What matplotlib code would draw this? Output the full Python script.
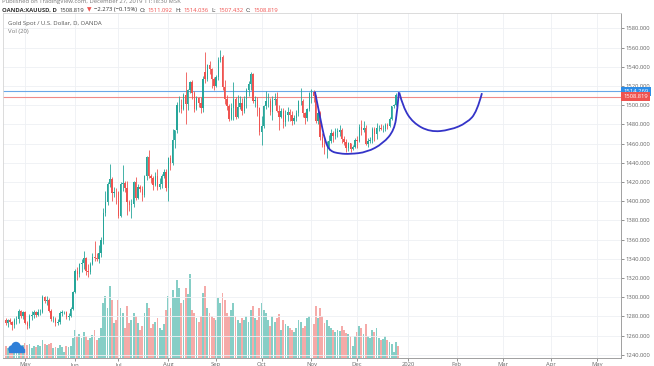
import matplotlib
matplotlib.use("Agg")
import matplotlib.pyplot as plt
from matplotlib.path import Path
from matplotlib.patches import PathPatch, Circle, Rectangle
from matplotlib.transforms import blended_transform_factory, IdentityTransform

plt.rcParams['font.family'] = ['Open Sans', 'DejaVu Sans']

# daily candles, Apr 17 2019 .. Dec 27 2019 (trading-day index)
opens = [1276, 1273, 1276, 1274, 1271, 1276, 1277, 1286, 1280,
         1284, 1273, 1270, 1280, 1281, 1285, 1281, 1284, 1285, 1300, 1296, 1297, 1286, 1277, 1277, 1273, 1274, 1283, 1284, 1284, 1279, 1280, 1288,
         1305, 1327, 1324, 1334, 1336, 1341, 1327, 1326, 1334, 1342, 1341, 1340, 1346, 1360, 1388, 1399, 1418, 1423, 1408, 1410,
         1409, 1385, 1418, 1419, 1414, 1399, 1396, 1397, 1420, 1403, 1415, 1413, 1406, 1426, 1446, 1426, 1424, 1417, 1426, 1415, 1418, 1426, 1430,
         1414, 1445, 1440, 1464, 1474, 1500, 1500, 1496, 1511, 1501, 1516, 1524, 1513, 1496, 1507, 1502, 1497, 1535, 1527, 1542, 1538, 1527,
         1520, 1529, 1547, 1550, 1519, 1506, 1499, 1486, 1497, 1506, 1488, 1498, 1502, 1494, 1506, 1516, 1522, 1532, 1504, 1505, 1497,
         1472, 1478, 1499, 1504, 1504, 1493, 1505, 1506, 1494, 1488, 1494, 1482, 1490, 1493, 1490, 1484, 1487, 1492, 1504, 1504, 1492, 1487, 1496,
         1513, 1514, 1510, 1484, 1492, 1467, 1459, 1456, 1456, 1463, 1471, 1468, 1472, 1472, 1474, 1465, 1462, 1455, 1461, 1454, 1456,
         1464, 1463, 1477, 1474, 1476, 1460, 1463, 1464, 1475, 1470, 1476, 1476, 1475, 1475, 1479, 1478, 1486, 1499, 1500, 1511.092]
highs = [1278, 1277, 1278, 1275, 1278, 1280, 1288, 1287, 1286,
         1286, 1275, 1282, 1286, 1287, 1286, 1288, 1288, 1302, 1301, 1301, 1299, 1288, 1280, 1279, 1277, 1286, 1287, 1286, 1286, 1283, 1290, 1306,
         1329, 1331, 1336, 1340, 1348, 1342, 1334, 1337, 1346, 1358, 1346, 1354, 1363, 1393, 1411, 1420, 1439, 1425, 1415, 1414,
         1411, 1420, 1438, 1421, 1421, 1401, 1402, 1421, 1425, 1418, 1417, 1416, 1427, 1447, 1453, 1428, 1426, 1430, 1433, 1424, 1428, 1434, 1433,
         1446, 1448, 1475, 1474, 1503, 1510, 1506, 1513, 1535, 1517, 1525, 1526, 1515, 1510, 1508, 1508, 1530, 1555, 1543, 1546, 1539, 1529,
         1531, 1550, 1557, 1552, 1526, 1511, 1501, 1502, 1524, 1508, 1511, 1510, 1507, 1510, 1518, 1525, 1535, 1534, 1510, 1508, 1498,
         1489, 1500, 1515, 1513, 1507, 1510, 1513, 1514, 1500, 1497, 1497, 1495, 1498, 1496, 1494, 1490, 1495, 1505, 1518, 1506, 1493, 1497, 1514,
         1517, 1516, 1511, 1494, 1494, 1471, 1465, 1463, 1469, 1475, 1473, 1476, 1476, 1479, 1476, 1468, 1465, 1462, 1461, 1459, 1466,
         1468, 1480, 1485, 1483, 1479, 1466, 1467, 1477, 1477, 1481, 1479, 1480, 1479, 1481, 1481, 1488, 1499, 1501, 1513, 1514.036]
lows = [1271, 1269, 1272, 1266, 1268, 1272, 1273, 1278, 1277,
        1272, 1267, 1268, 1276, 1278, 1279, 1280, 1281, 1283, 1294, 1292, 1285, 1275, 1274, 1270, 1271, 1272, 1280, 1282, 1277, 1276, 1279, 1287,
        1304, 1318, 1321, 1326, 1329, 1323, 1321, 1324, 1333, 1338, 1338, 1336, 1342, 1355, 1384, 1396, 1415, 1400, 1404, 1397,
        1382, 1383, 1411, 1410, 1386, 1390, 1382, 1394, 1401, 1402, 1409, 1400, 1404, 1422, 1424, 1419, 1412, 1416, 1412, 1413, 1414, 1424, 1411,
        1400, 1432, 1438, 1455, 1471, 1493, 1492, 1495, 1480, 1495, 1513, 1506, 1493, 1495, 1498, 1492, 1493, 1523, 1525, 1532, 1518, 1516,
        1519, 1526, 1545, 1516, 1501, 1495, 1484, 1485, 1485, 1486, 1487, 1496, 1490, 1492, 1497, 1510, 1516, 1502, 1498, 1489, 1469,
        1459, 1476, 1496, 1498, 1490, 1485, 1500, 1493, 1474, 1487, 1476, 1478, 1484, 1484, 1479, 1480, 1484, 1489, 1500, 1488, 1480, 1483, 1494,
        1502, 1503, 1481, 1480, 1464, 1456, 1449, 1445, 1453, 1461, 1462, 1465, 1467, 1468, 1461, 1458, 1451, 1452, 1451, 1453, 1455,
        1455, 1462, 1469, 1472, 1458, 1456, 1461, 1461, 1463, 1465, 1473, 1474, 1472, 1473, 1475, 1477, 1485, 1497, 1499, 1507.432]
closes = [1273, 1276, 1274, 1271, 1276, 1277, 1286, 1280, 1284,
          1273, 1270, 1280, 1281, 1285, 1281, 1284, 1285, 1300, 1296, 1297, 1286, 1277, 1277, 1273, 1274, 1283, 1284, 1284, 1279, 1280, 1288, 1305,
          1327, 1324, 1334, 1336, 1341, 1327, 1326, 1334, 1342, 1341, 1340, 1346, 1360, 1388, 1399, 1418, 1423, 1408, 1410, 1409,
          1385, 1418, 1419, 1414, 1399, 1396, 1397, 1420, 1403, 1415, 1413, 1406, 1426, 1446, 1426, 1424, 1417, 1426, 1415, 1418, 1426, 1430, 1414,
          1445, 1440, 1464, 1474, 1500, 1500, 1496, 1511, 1501, 1516, 1524, 1513, 1496, 1507, 1502, 1497, 1527, 1527, 1542, 1538, 1527, 1520,
          1529, 1547, 1550, 1519, 1506, 1499, 1486, 1497, 1506, 1488, 1498, 1502, 1494, 1506, 1516, 1522, 1532, 1504, 1505, 1497, 1472,
          1478, 1499, 1504, 1504, 1493, 1505, 1506, 1494, 1488, 1494, 1482, 1490, 1493, 1490, 1484, 1487, 1492, 1504, 1504, 1492, 1487, 1496, 1513,
          1514, 1510, 1484, 1492, 1467, 1459, 1456, 1456, 1463, 1471, 1468, 1472, 1472, 1474, 1465, 1462, 1455, 1461, 1454, 1456, 1464,
          1463, 1477, 1474, 1476, 1460, 1463, 1464, 1475, 1470, 1476, 1476, 1475, 1475, 1479, 1478, 1486, 1499, 1500, 1511, 1508.819]
volumes = [12, 10, 9, 11, 13, 12, 14, 11, 13,
           15, 13, 14, 10, 12, 11, 13, 12, 18, 14, 13, 14, 15, 10, 11, 10, 13, 11, 6, 12, 11, 12, 20,
           28, 22, 24, 20, 26, 22, 18, 20, 23, 28, 18, 20, 30, 55, 62, 50, 72, 58, 35, 38,
           58, 50, 45, 30, 52, 35, 38, 45, 42, 35, 28, 32, 45, 55, 50, 30, 34, 36, 40, 30, 28, 34, 48,
           62, 50, 68, 60, 78, 70, 55, 58, 70, 64, 84, 48, 45, 40, 36, 42, 65, 72, 50, 45, 42, 40,
           38, 60, 55, 65, 58, 45, 42, 48, 55, 42, 38, 35, 40, 38, 42, 36, 48, 52, 40, 38, 50,
           55, 48, 45, 38, 32, 42, 36, 40, 44, 28, 38, 34, 32, 30, 28, 26, 30, 38, 36, 30, 32, 40, 42,
           40, 34, 52, 40, 50, 42, 35, 38, 32, 30, 28, 26, 28, 27, 32, 28, 25, 24, 22, 12, 22,
           26, 32, 30, 24, 34, 22, 20, 28, 26, 30, 20, 18, 19, 22, 18, 16, 14, 6, 16, 12]

month_pos = [9, 32, 52, 75, 97, 118, 141, 162, 185.5, 208, 229.3, 251.5, 272.7]
month_labels = ['May', 'Jun', 'Jul', 'Aug', 'Sep', 'Oct', 'Nov', 'Dec', '2020', 'Feb', 'Mar', 'Apr', 'May']
price_ticks = list(range(1240, 1581, 20))

# hand-drawn cup shapes (day index, price)
cup1_x = [142.6, 145, 147.3, 149.6, 154, 158.8, 166.6, 174, 179.2, 180.6, 181.3]
cup1_y = [1514, 1487, 1462, 1452, 1449.5, 1449, 1451, 1460, 1474, 1495, 1513.5]
cup2_x = [181.5, 183.2, 187.8, 195.7, 204.9, 212.7, 217.3, 219.6]
cup2_y = [1513, 1498, 1481.5, 1472, 1474, 1481.5, 1493, 1512.5]

line_blue = 1514.269
line_red = 1508.819

UP, DOWN = '#26a69a', '#ef5350'
VUP, VDOWN = '#86cec6', '#f5aaa8'
W, H = 654, 366

fig = plt.figure(figsize=(6.54, 3.66), dpi=100)
ax = fig.add_axes([3 / W, (H - 357.5) / H, 618 / W, 344.5 / H])
ax2 = ax.twinx()
ax.set_zorder(ax2.get_zorder() + 1)
ax.patch.set_visible(False)
ax2.patch.set_facecolor('white')

idx = list(range(len(closes)))
up = [c >= o for o, c in zip(opens, closes)]

# volume
ax2.bar(idx, volumes, width=0.85, color=[VUP if u else VDOWN for u in up], linewidth=0)
ax2.set_ylim(0, 344.5)
ax2.set_yticks([])
for s in ax2.spines.values():
    s.set_visible(False)

# candles
cols = [UP if u else DOWN for u in up]
ax.vlines(idx, lows, highs, colors=cols, linewidth=0.6, zorder=3)
bottoms = [min(o, c) for o, c in zip(opens, closes)]
heights = [max(abs(c - o), 0.6) for o, c in zip(opens, closes)]
ax.bar(idx, heights, bottom=bottoms, width=0.62, color=cols, linewidth=0, zorder=4)

ax.set_xlim(-1.2, 283.7)
ax.set_ylim(1237.1, 1596)

ax.axhline(line_blue, color='#6aa8e8', linewidth=0.8, zorder=2)
ax.axhline(line_red, color='#f08a88', linewidth=0.8, zorder=2)


def smooth(xs, ys):
    verts = [(xs[0], ys[0])]
    codes = [Path.MOVETO]
    n = len(xs)
    for i in range(1, n - 1):
        end = (xs[-1], ys[-1]) if i == n - 2 else ((xs[i] + xs[i + 1]) / 2, (ys[i] + ys[i + 1]) / 2)
        verts += [(xs[i], ys[i]), end]
        codes += [Path.CURVE3, Path.CURVE3]
    return Path(verts, codes)


for cx, cy in [(cup1_x, cup1_y), (cup2_x, cup2_y)]:
    ax.add_patch(PathPatch(smooth(cx, cy), fill=False, edgecolor='#3434c8', linewidth=1.3, zorder=6))

# axes styling
ax.yaxis.tick_right()
ax.set_yticks(price_ticks)
ax.set_yticklabels(['%.3f' % p for p in price_ticks])
ax.set_xticks(month_pos)
ax.set_xticklabels(month_labels)
ax.tick_params(axis='both', labelsize=4.2, colors='#666666', length=2, width=0.5, pad=1.5)
ax.grid(True, color='#eef0f4', linewidth=0.6, zorder=0)
ax.set_axisbelow(True)
for k in ['left', 'top']:
    ax.spines[k].set_color('#d6d6d6')
    ax.spines[k].set_linewidth(0.6)
for k in ['right', 'bottom']:
    ax.spines[k].set_color('#a0a0a0')
    ax.spines[k].set_linewidth(0.7)

# price labels on the scale
bt = blended_transform_factory(ax.transAxes, ax.transData)
for val, col in [(line_blue, '#2e8de6'), (line_red, '#ef5350')]:
    ax.text(1.004, val, '%.3f' % val, transform=bt, fontsize=4.2, color='white', va='center', ha='left',
            clip_on=False, zorder=10,
            bbox=dict(boxstyle='square,pad=0.35', facecolor=col, edgecolor='none'))

# header texts
fig.text(2 / W, 1 - 1 / H, 'Published on TradingView.com, December 27, 2019 11:18:30 MSK',
         fontsize=4.2, color='#777777', va='center', ha='left')

renderer = fig.canvas.get_renderer()
pieces = [('OANDA:XAUUSD, D', '#333333', 'bold'), ('1508.819', '#333333', 'normal'),
          ('\u25bc', '#ef5350', 'normal'), ('\u22122.273 (\u22120.15%)', '#333333', 'normal'),
          ('O:', '#333333', 'normal'), ('1511.092', '#ef5350', 'normal'),
          ('H:', '#333333', 'normal'), ('1514.036', '#ef5350', 'normal'),
          ('L:', '#333333', 'normal'), ('1507.432', '#ef5350', 'normal'),
          ('C:', '#333333', 'normal'), ('1508.819', '#ef5350', 'normal')]
xp = 2.0
for txt, col, wt in pieces:
    t = fig.text(xp / W, 1 - 10 / H, txt, fontsize=4.2, color=col, fontweight=wt, va='center', ha='left')
    bb = t.get_window_extent(renderer)
    xp = bb.x1 + 2.5

fig.text(8 / W, 1 - 23 / H, 'Gold Spot / U.S. Dollar, D, OANDA', fontsize=4.3, color='#555555', va='center')
fig.text(8 / W, 1 - 32 / H, 'Vol (20)', fontsize=4.3, color='#777777', va='center')

# small logo bottom-left
for (cx, cy, r) in [(12, 17, 3), (16, 19.5, 4), (20.5, 17, 3)]:
    fig.add_artist(Circle((cx, cy), r, transform=IdentityTransform(), color='#2f7fd8', zorder=20))
fig.add_artist(Rectangle((9, 14), 14.5, 3.5, transform=IdentityTransform(), color='#2f7fd8', zorder=20))

fig.savefig('out.png', dpi=100)
